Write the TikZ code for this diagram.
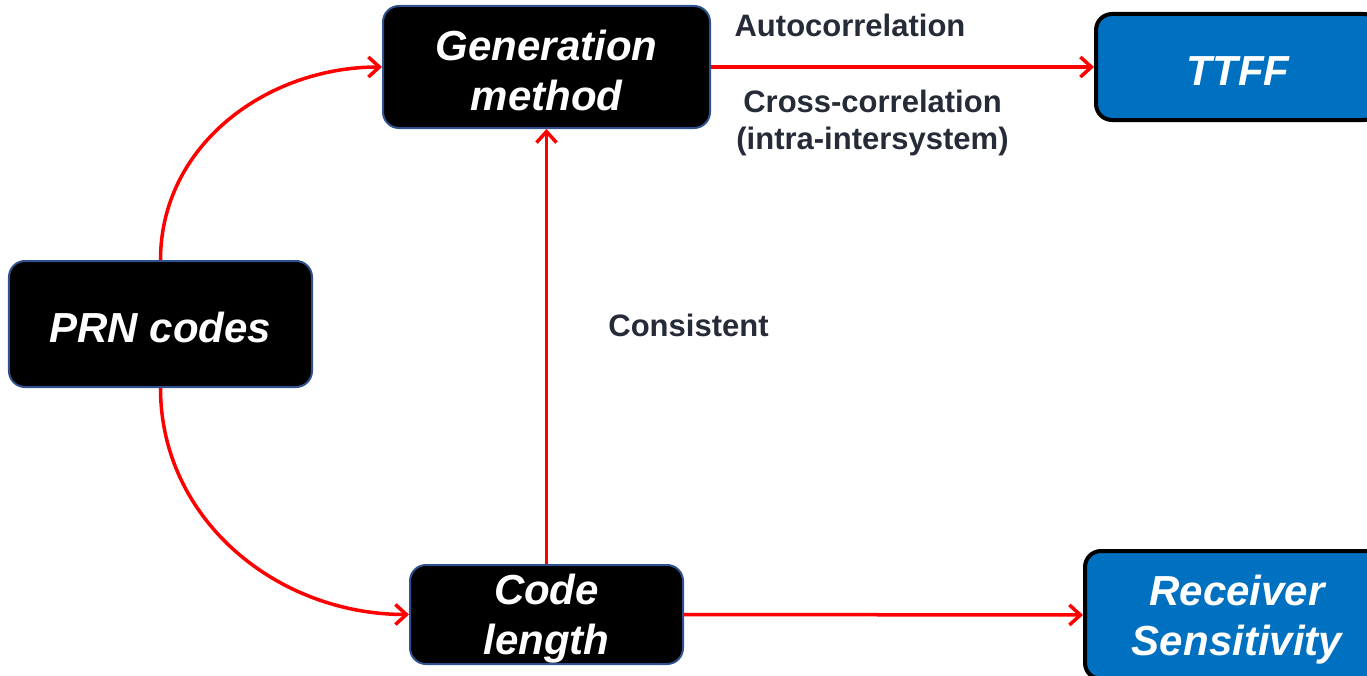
\documentclass[tikz,border=0pt]{standalone}
\usepackage{fontspec}
\setmainfont{Liberation Sans}
\usetikzlibrary{arrows.meta}
\definecolor{boxedge}{HTML}{2F528F}
\definecolor{outblue}{HTML}{0070C0}
\definecolor{labeltext}{HTML}{262B38}
\definecolor{linkred}{HTML}{FF0000}
% taller first line, so box text sits a little lower
\newcommand{\boxstrut}{\rule{0pt}{37bp}}
\tikzset{
  boxtext/.style={text=white, align=center, inner sep=0pt,
    font=\fontsize{42bp}{50bp}\selectfont\bfseries\itshape},
  darkbox/.style={boxtext, draw=boxedge, line width=2bp, fill=black, rounded corners=16bp},
  bluebox/.style={boxtext, draw=black, line width=4bp, fill=outblue, rounded corners=16bp},
  linklabel/.style={text=labeltext, align=center, inner sep=0pt,
    font=\fontsize{31bp}{37bp}\selectfont\bfseries},
  link/.style={draw=linkred, line width=3.5bp,
    -{Straight Barb[length=11bp,width=20bp,line width=3.5bp]}}
}
\begin{document}
\begin{tikzpicture}[x=1bp,y=-1bp]
\useasboundingbox (0,0) rectangle (1367,676);

% boxes
\node[darkbox, minimum width=327bp, minimum height=122bp] (gen) at (546.5,67) {\boxstrut Generation\\method};
\node[bluebox, minimum width=284bp, minimum height=106bp] (ttff) at (1238,67) {\boxstrut TTFF};
\node[darkbox, minimum width=303bp, minimum height=126bp] (prn) at (160.5,324) {\boxstrut PRN codes};
\node[darkbox, minimum width=273bp, minimum height=99bp] (code) at (546.5,614.5) {\rule{0pt}{39bp}Code\\length};
\node[bluebox, minimum width=304bp, minimum height=128bp] (recv) at (1237,615) {\rule{0pt}{39bp}Receiver\\Sensitivity};

% labels
\node[linklabel] (auto) at (850,25) {Autocorrelation};
\node[linklabel] (cross) at (872.5,123) {Cross-correlation\\(intra-intersystem)};
\node[linklabel] (cons) at (688.5,325) {Consistent};

% connectors
\draw[link] (prn.north) to[out=90,in=180] (gen.west);
\draw[link] (prn.south) to[out=-90,in=180] (code.west);
\draw[link] (code.north) -- (gen.south);
\draw[link] (gen.east) -- (ttff.west);
\draw[link] (code.east) -- (recv.west);
\end{tikzpicture}
\end{document}
